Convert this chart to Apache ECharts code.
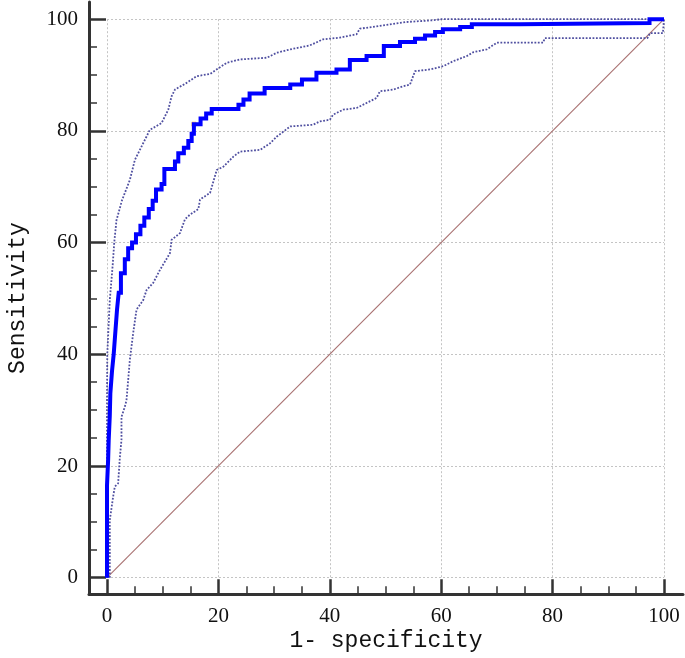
<!DOCTYPE html>
<html>
<head>
<meta charset="utf-8">
<script src="https://cdn.jsdelivr.net/npm/echarts@6/dist/echarts.min.js"></script>
<style>
html,body{margin:0;padding:0;background:#fff;}
#chart{width:685px;height:658px;}
</style>
</head>
<body>
<div id="chart"></div>
<script>
// ---- data (1 - specificity, sensitivity), in % ----
const rocCurve = [
  [0,0],[0,16.5],[0.2,16.5],[0.2,21],[0.3,21],[0.3,24.5],[0.5,24.5],[0.5,29],[0.6,29],[0.6,33],
  [0.9,33],[0.9,37],[1.2,37],[1.2,40],[1.5,40],[1.5,44],[1.8,44],[1.8,48],[2.1,48],[2.1,51],
  [2.5,51],[2.5,54.5],[3.2,54.5],[3.2,57],[3.8,57],[3.8,59],[4.5,59],[4.5,60],[5.2,60],[5.2,61.5],
  [6,61.5],[6,63],[6.7,63],[6.7,64.5],[7.5,64.5],[7.5,66],[8.2,66],[8.2,67.5],[8.8,67.5],[8.8,69.5],
  [9.8,69.5],[9.8,70.5],[10.3,70.5],[10.3,73.2],[12.2,73.2],[12.2,74.5],[12.8,74.5],[12.8,76],
  [13.8,76],[13.8,77],[14.6,77],[14.6,78.2],[15.2,78.2],[15.2,79.5],[15.6,79.5],[15.6,81.2],
  [16.8,81.2],[16.8,82.2],[17.8,82.2],[17.8,83.1],[18.8,83.1],[18.8,83.9],[23.6,83.9],[23.6,84.7],
  [24.5,84.7],[24.5,85.6],[25.6,85.6],[25.6,86.7],[28.3,86.7],[28.3,87.7],[32.9,87.7],[32.9,88.3],
  [35,88.3],[35,89.2],[37.6,89.2],[37.6,90.4],[41.2,90.4],[41.2,91],[43.6,91],[43.6,92.7],
  [46.6,92.7],[46.6,93.4],[49.7,93.4],[49.7,95.2],[52.6,95.2],[52.6,95.9],[55.3,95.9],[55.3,96.5],
  [57.1,96.5],[57.1,97.1],[58.9,97.1],[58.9,97.7],[60.3,97.7],[60.3,98.2],[63.4,98.2],[63.4,98.6],
  [65.5,98.6],[65.5,99.1],[74.1,99.1],[74.1,99.3],[97.4,99.3],[97.4,100],[100,100]
];
const upperCI = [
  [0,0],[0,32],[0.05,40],[0.5,49.7],[1.0,55.7],[1.3,60],[1.7,64],[2.7,67.6],[4.1,71.2],[5.0,74.8],
  [5.9,76.6],[7.1,79],[7.7,80.2],[9.8,81.4],[11,83.8],[11.6,86.2],[12.2,87.4],[14.3,88.6],
  [16.1,89.8],[18.5,90.2],[21.5,92.2],[23.9,92.8],[28.7,93.1],[30.5,94],[32.9,94.6],[36.4,95.3],
  [38.8,96.4],[41.8,96.7],[44.8,97.3],[45.4,98.3],[49.6,98.9],[53.8,99.5],[58.5,99.8],[60,100],[100,100]
];
const lowerCI = [
  [0.5,0],[0.5,10.3],[1.1,14.5],[1.4,16.3],[2.0,16.9],[2.3,21.4],[2.6,24.7],[2.6,28.8],[3.2,30.6],
  [3.5,31.8],[4.1,39],[4.7,43.8],[5.3,48],[6.5,49.7],[7.1,51.5],[8.3,52.8],[9.5,55.1],[11.3,58.1],
  [11.6,60.5],[13.1,61.7],[14,64.2],[14.9,65],[16.4,66],[16.7,67.7],[18.5,68.9],[19.7,73],
  [20.9,73.6],[22.7,75.4],[23.9,76.3],[27.5,76.6],[29.3,77.8],[30.5,79],[32.9,80.8],[37,81.1],
  [38.2,81.7],[40,82],[40.6,82.9],[42.4,83.8],[44.8,84.1],[46.6,85],[48.4,85.9],[49,87.1],
  [51.4,87.4],[53.2,88],[54.4,88.3],[55.3,90.7],[58,91],[60.4,91.6],[62.2,92.5],[64.6,93.4],
  [65.8,94.1],[68.2,94.6],[70,95.8],[78.3,95.8],[78.6,96.6],[97,96.6],[97.5,97.5],[99.8,97.5],[100,100]
];
const diagonal = [[0,0],[100,100]];
const cutoffPoint = [[15.6,81.2]];
const tickValues = [0,20,40,60,80,100];
const xTitle = '1- specificity';
const yTitle = 'Sensitivity';

const chart = echarts.init(document.getElementById('chart'), null, {renderer:'canvas'});
const labelFont = {fontFamily:'Liberation Serif', fontSize:21, color:'#111'};
const titleFont = {fontFamily:'Liberation Mono', fontSize:23, color:'#111'};
const axisCol = '#333';

function plotAxis(dim){
  return {
    gridIndex:1, type:'value', min:tickValues[0], max:tickValues[tickValues.length-1], interval:20,
    position: dim==='x' ? 'bottom' : 'left',
    offset: dim==='x' ? 16.6 : 18,
    axisLine:{show:false, onZero:false},
    axisTick:{show:true, inside:true, length: dim==='x'?15:17, lineStyle:{color:axisCol, width:2.5}},
    minorTick:{show:true, splitNumber:4, length:8, lineStyle:{color:axisCol, width:1.5}},
    axisLabel:Object.assign({margin: dim==='x'?12:11}, labelFont),
    splitLine:{show:true, lineStyle:{color:'#c4c4c4', type:[2,2], width:1}},
    minorSplitLine:{show:false}
  };
}
function frameAxis(dim){
  return {
    gridIndex:0, type:'value',
    min: dim==='x' ? -3.2 : -3, max: dim==='x' ? 103.2 : 103,
    position: dim==='x' ? 'bottom' : 'left',
    name: dim==='x' ? xTitle : yTitle,
    nameLocation:'middle', nameGap: dim==='x' ? 35 : 60,
    nameTextStyle: titleFont,
    axisLine:{show:true, onZero:false, lineStyle:{color:axisCol, width:3}},
    axisTick:{show:false}, axisLabel:{show:false}, splitLine:{show:false}
  };
}

chart.setOption({
  animation:false,
  backgroundColor:'#fff',
  grid:[
    {left:89, top:2, width:594, height:592, outerBoundsMode:'none', containLabel:false},
    {left:107, top:19.2, width:557, height:558.5, outerBoundsMode:'none', containLabel:false}
  ],
  xAxis:[frameAxis('x'), plotAxis('x')],
  yAxis:[frameAxis('y'), plotAxis('y')],
  series:[
    {type:'line', xAxisIndex:1, yAxisIndex:1, data:diagonal, symbol:'none', clip:false,
     lineStyle:{color:'#a87070', width:1.1}},
    {type:'line', xAxisIndex:1, yAxisIndex:1, data:upperCI, symbol:'none', clip:false,
     lineStyle:{color:'#4f4fa0', width:1.8, type:[1.8,1.6]}},
    {type:'line', xAxisIndex:1, yAxisIndex:1, data:lowerCI, symbol:'none', clip:false,
     lineStyle:{color:'#4f4fa0', width:1.8, type:[1.8,1.6]}},
    {type:'line', xAxisIndex:1, yAxisIndex:1, data:rocCurve, symbol:'none', clip:false,
     lineStyle:{color:'#0000ff', width:4, join:'miter'}},
    {type:'scatter', xAxisIndex:1, yAxisIndex:1, data:cutoffPoint, symbol:'rect', symbolSize:4, clip:false,
     itemStyle:{color:'#fff', borderColor:'#f0a040', borderWidth:1}}
  ]
});
</script>
</body>
</html>
